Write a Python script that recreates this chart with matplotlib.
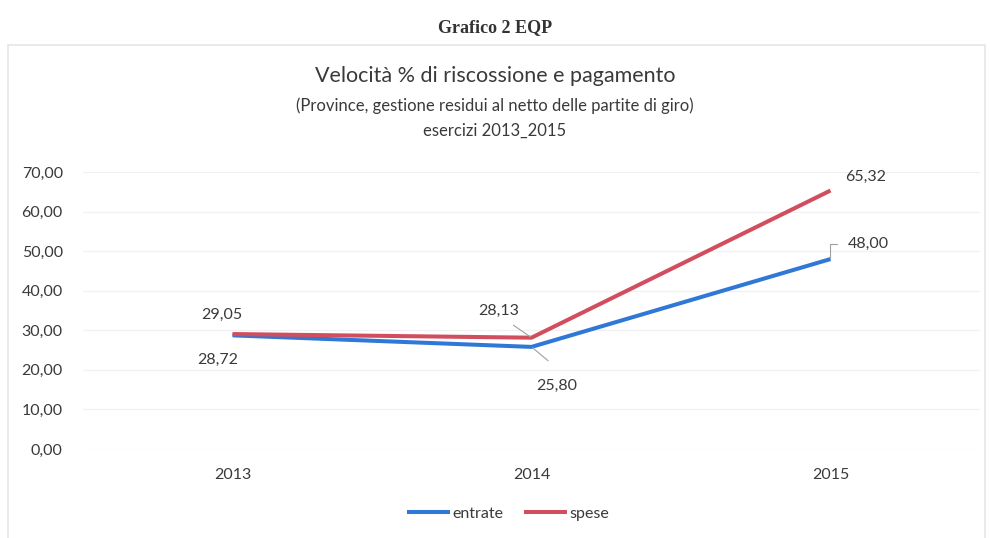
import matplotlib.pyplot as plt
from matplotlib.patches import Rectangle

years = ["2013", "2014", "2015"]
entrate = [28.72, 25.80, 48.00]
spese = [29.05, 28.13, 65.32]
y_ticks = [0, 10, 20, 30, 40, 50, 60, 70]

blue = "#2f78d6"
red = "#d14e5e"
txt = "#3a3a3a"

plt.rcParams["font.family"] = ["Lato", "DejaVu Sans"]

fig = plt.figure(figsize=(9.9, 5.38), dpi=100)
fig.patch.set_facecolor("white")

# frame of the chart area
fig.patches.append(Rectangle((8 / 990, -0.01), 977 / 990, 1 - 45 / 538 + 0.01,
                             transform=fig.transFigure, fill=False,
                             edgecolor="#e6e6e6", linewidth=1.2))

ax = fig.add_axes([83 / 990, 1 - 449 / 538, 897 / 990, 277 / 538])
x = list(range(len(years)))
ax.plot(x, entrate, color=blue, linewidth=2.9, solid_capstyle="butt", label="entrate")
ax.plot(x, spese, color=red, linewidth=2.9, solid_capstyle="butt", label="spese")

ax.set_xlim(-0.5, 2.5)
ax.set_ylim(0, 70)
ax.set_xticks(x)
ax.set_xticklabels(years)
ax.set_yticks(y_ticks)
ax.set_yticklabels([f"{v:.2f}".replace(".", ",") for v in y_ticks])
ax.tick_params(axis="both", length=0, labelsize=11.5, colors=txt)
ax.tick_params(axis="x", pad=14)
ax.tick_params(axis="y", pad=14.5)
ax.grid(axis="y", color="#f1f1f1", linewidth=0.9)
for s in ax.spines.values():
    s.set_visible(False)
ax.set_axisbelow(True)


def fmt(v):
    return f"{v:.2f}".replace(".", ",")


# data labels (offsets in points)
labels = [
    (0, spese[0], -8, 14),
    (0, entrate[0], -11, -18),
    (1, spese[1], -24, 19),
    (1, entrate[1], 18, -28),
    (2, spese[2], 25, 10),
    (2, entrate[2], 27, 11),
]
for xi, v, dx, dy in labels:
    ax.annotate(fmt(v), (xi, v), xytext=(dx, dy), textcoords="offset points",
                ha="center", va="center", fontsize=11.5, color=txt)

# leader lines
ax.annotate("", (1, spese[1]), xytext=(-13, 9), textcoords="offset points",
            arrowprops=dict(arrowstyle="-", color="#a0a0a0", lw=0.8, shrinkA=0, shrinkB=1))
ax.annotate("", (1, entrate[1]), xytext=(12, -10), textcoords="offset points",
            arrowprops=dict(arrowstyle="-", color="#a0a0a0", lw=0.8, shrinkA=0, shrinkB=1))
ax.annotate("", (2, entrate[2]), xytext=(5, 11), textcoords="offset points",
            arrowprops=dict(arrowstyle="-", color="#a0a0a0", lw=0.8, shrinkA=0, shrinkB=1,
                            connectionstyle="angle,angleA=0,angleB=90,rad=0"))

fig.text(0.5, 1 - 28 / 538, "Grafico 2 EQP", ha="center", va="center",
         family="Liberation Serif", fontweight="bold", fontsize=13, color="#333333")
fig.text(0.5, 1 - 76 / 538, "Velocità % di riscossione e pagamento", ha="center",
         va="center", fontsize=15.5, color=txt)
fig.text(0.5, 1 - 106 / 538, "(Province, gestione residui al netto delle partite di giro)",
         ha="center", va="center", fontsize=12, color=txt)
fig.text(0.5, 1 - 131 / 538, "esercizi 2013_2015", ha="center", va="center",
         fontsize=12, color=txt)

leg = fig.legend(loc="center", bbox_to_anchor=(0.513, 1 - 514 / 538), ncol=2,
                 frameon=False, fontsize=11.5, handlelength=2.7, handletextpad=0.15,
                 columnspacing=1.3)
for t in leg.get_texts():
    t.set_color(txt)

fig.savefig("out.png", dpi=100)
